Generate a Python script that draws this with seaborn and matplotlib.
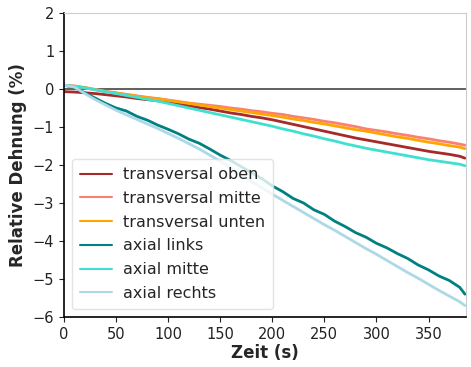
import numpy as np
import pandas as pd
import matplotlib
matplotlib.use("Agg")
import matplotlib.pyplot as plt
import seaborn as sns

time_s = [0, 10, 20, 30, 40, 50, 60, 70, 80, 90, 100, 110, 120, 130, 140, 150, 160, 170, 180, 190,
          200, 210, 220, 230, 240, 250, 260, 270, 280, 290, 300, 310, 320, 330, 340, 350, 360, 370, 380, 385]

transversal_oben = [-0.07, -0.08, -0.10, -0.12, -0.15, -0.18, -0.21, -0.25, -0.28, -0.31, -0.35, -0.39, -0.44, -0.49,
                    -0.53, -0.58, -0.63, -0.67, -0.72, -0.76, -0.81, -0.87, -0.93, -0.99, -1.05, -1.11, -1.17, -1.23,
                    -1.29, -1.34, -1.39, -1.44, -1.49, -1.54, -1.59, -1.64, -1.68, -1.72, -1.77, -1.82]
transversal_mitte = [0.10, 0.08, 0.04, -0.01, -0.06, -0.10, -0.14, -0.18, -0.22, -0.25, -0.29, -0.33, -0.37, -0.40,
                     -0.43, -0.46, -0.50, -0.53, -0.57, -0.60, -0.64, -0.67, -0.72, -0.76, -0.80, -0.85, -0.89, -0.94,
                     -0.99, -1.05, -1.09, -1.13, -1.18, -1.22, -1.27, -1.31, -1.36, -1.40, -1.45, -1.48]
transversal_unten = [0.10, 0.07, 0.03, -0.02, -0.07, -0.11, -0.15, -0.19, -0.23, -0.26, -0.30, -0.34, -0.38, -0.42,
                     -0.46, -0.50, -0.54, -0.58, -0.62, -0.66, -0.70, -0.74, -0.79, -0.83, -0.88, -0.92, -0.97, -1.02,
                     -1.07, -1.11, -1.16, -1.21, -1.26, -1.30, -1.35, -1.40, -1.44, -1.49, -1.53, -1.57]
axial_links = [0.10, 0.04, -0.10, -0.24, -0.38, -0.50, -0.58, -0.72, -0.82, -0.95, -1.06, -1.18, -1.32, -1.43,
               -1.58, -1.74, -1.88, -2.04, -2.20, -2.36, -2.55, -2.70, -2.88, -3.00, -3.18, -3.30, -3.48, -3.62,
               -3.78, -3.90, -4.06, -4.18, -4.33, -4.46, -4.63, -4.76, -4.92, -5.04, -5.22, -5.40]
axial_mitte = [0.10, 0.07, 0.03, -0.02, -0.07, -0.12, -0.17, -0.22, -0.27, -0.32, -0.38, -0.44, -0.50, -0.56,
               -0.62, -0.68, -0.74, -0.80, -0.86, -0.92, -0.98, -1.05, -1.11, -1.18, -1.24, -1.31, -1.37, -1.44,
               -1.50, -1.56, -1.61, -1.66, -1.71, -1.76, -1.81, -1.86, -1.90, -1.94, -1.98, -2.02]
axial_rechts = [0.10, 0.05, -0.12, -0.28, -0.42, -0.56, -0.68, -0.80, -0.92, -1.04, -1.17, -1.30, -1.44, -1.58,
                -1.74, -1.90, -2.08, -2.26, -2.43, -2.60, -2.77, -2.93, -3.09, -3.25, -3.41, -3.57, -3.72, -3.88,
                -4.04, -4.20, -4.35, -4.51, -4.67, -4.83, -4.98, -5.14, -5.30, -5.45, -5.60, -5.70]

labels = ["transversal oben", "transversal mitte", "transversal unten",
          "axial links", "axial mitte", "axial rechts"]
series = [transversal_oben, transversal_mitte, transversal_unten,
          axial_links, axial_mitte, axial_rechts]
colors = ["brown", "salmon", "orange", "teal", "turquoise", "lightblue"]

rows = []
for lab, vals in zip(labels, series):
    for t, v in zip(time_s, vals):
        rows.append({"Zeit": t, "Dehnung": v, "Sensor": lab})
df = pd.DataFrame(rows)

sns.set_style("ticks")
plt.rcParams['font.family'] = ['DejaVu Sans']

fig = plt.figure(figsize=(4.71, 3.67), dpi=100)
ax = fig.add_axes([64/471, 1 - 317/367, (466-64)/471, (317-13)/367])

ax.axhline(0, color="#444444", lw=1.2, zorder=1)
sns.lineplot(data=df, x="Zeit", y="Dehnung", hue="Sensor", hue_order=labels,
             palette=colors, lw=2.0, ax=ax, legend=True)

ax.set_xlim(0, 386)
ax.set_ylim(-6, 2)
ax.set_xticks([0, 50, 100, 150, 200, 250, 300, 350])
ax.set_yticks([-6, -5, -4, -3, -2, -1, 0, 1, 2])
ax.set_xlabel("Zeit (s)", fontsize=12, fontweight="bold", labelpad=2)
ax.set_ylabel("Relative Dehnung (%)", fontsize=12, fontweight="bold")
ax.tick_params(labelsize=10.5, colors="#222222")
for s in ["top", "right"]:
    ax.spines[s].set_color("#cccccc")
for s in ["left", "bottom"]:
    ax.spines[s].set_color("black")
    ax.spines[s].set_linewidth(1.2)

leg = ax.legend(loc="lower left", fontsize=11.5, frameon=True, handlelength=2.0,
                handletextpad=0.7, labelspacing=0.55, borderpad=0.5,
                borderaxespad=0.5)
leg.get_frame().set_edgecolor("#dddddd")
for line in leg.get_lines():
    line.set_linewidth(1.5)

fig.savefig("out.png", dpi=100)
